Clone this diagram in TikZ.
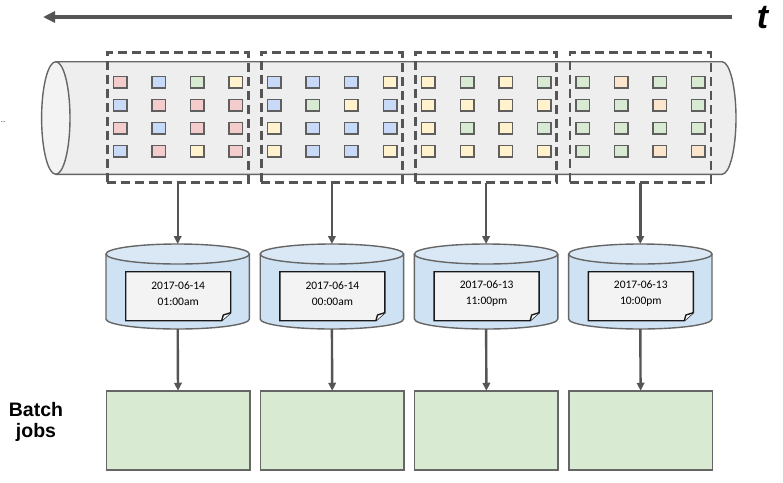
\documentclass[tikz,border=0pt]{standalone}
\usepackage{fontspec}
\setmainfont{Liberation Sans}
\newfontfamily\carlito{Carlito}
\usetikzlibrary{arrows.meta}
\definecolor{pk}{HTML}{F4CCCC}
\definecolor{bl}{HTML}{C9DAF8}
\definecolor{gr}{HTML}{D9EAD3}
\definecolor{ye}{HTML}{FFF2CC}
\definecolor{or}{HTML}{FCE5CD}
\definecolor{sqline}{HTML}{5F5F5F}
\definecolor{dline}{HTML}{555555}
\definecolor{aline}{HTML}{555555}
\definecolor{tubeline}{HTML}{666666}
\definecolor{tubefill}{HTML}{EEEEEE}
\definecolor{capfill}{HTML}{F3F3F3}
\definecolor{dbfill}{HTML}{CFE2F3}
\definecolor{dbtop}{HTML}{DAE8F5}
\definecolor{docfill}{HTML}{F3F3F3}
\definecolor{batchfill}{HTML}{D9EAD3}
\begin{document}
\begin{tikzpicture}[x=1pt,y=-1pt,
  sq/.style={draw=sqline,line width=1.5pt,minimum width=13.5pt,minimum height=11.5pt,inner sep=0pt,outer sep=0pt},
  dbox/.style={draw=dline,dash pattern=on 9pt off 5pt,line width=2.6pt,minimum width=141pt,minimum height=130pt,inner sep=0pt,outer sep=0pt},
  dbarea/.style={inner sep=0pt,outer sep=0pt,minimum width=143.4pt,minimum height=85pt},
  dbshape/.style={draw=tubeline,line width=1.4pt},
  doctext/.style={inner sep=0pt,align=center,font=\carlito\fontsize{11.5}{15.7}\selectfont},
  docline/.style={draw=black!90,line width=1.4pt},
  batch/.style={draw=tubeline,fill=batchfill,line width=1.5pt,minimum width=143.5pt,minimum height=79.3pt,inner sep=0pt,outer sep=0pt},
  conn/.style={draw=aline,line width=2.4pt,-{Triangle[length=8pt,width=7.5pt]}}
]
\useasboundingbox (0,0) rectangle (783,482);
\fill[white] (0,0) rectangle (783,482);

% time arrow
\coordinate (tstart) at (732,17);
\coordinate (tend) at (43,17);
\draw[line width=3.8pt,draw=aline,-{Triangle[length=12pt,width=11pt]}] (tstart) -- (tend);
\node[anchor=base,inner sep=0pt,font=\fontsize{34}{34}\selectfont\bfseries\itshape] (tlabel) at (762.5,28) {t};

% dots at left
\node[inner sep=0pt,font=\fontsize{8}{8}\selectfont] (dots) at (3,122) {..};

% tube
\fill[tubefill] (55.8,61.7) -- (722,61.7) arc[start angle=90,end angle=-90,x radius=14pt,y radius=56.3pt] -- (55.8,174.3) -- cycle;
\draw[draw=tubeline,line width=1.4pt] (55.8,61.7) -- (722,61.7) arc[start angle=90,end angle=-90,x radius=14pt,y radius=56.3pt] -- (55.8,174.3);
\draw[draw=tubeline,fill=capfill,line width=1.4pt] (55.8,118) ellipse[x radius=14.2pt,y radius=56.3pt];

% squares
\foreach \i/\cols in {0/{pk,bl,gr,ye,bl,pk,pk,pk,pk,bl,pk,pk,bl,pk,ye,pk},
                      1/{bl,bl,bl,ye,bl,gr,ye,bl,ye,bl,bl,bl,ye,bl,bl,ye},
                      2/{ye,gr,ye,gr,ye,ye,ye,ye,ye,gr,ye,gr,ye,ye,ye,ye},
                      3/{gr,or,gr,gr,gr,gr,or,gr,gr,gr,gr,gr,gr,gr,or,or}}{
  \foreach \c [count=\n from 0] in \cols {
    \pgfmathtruncatemacro\j{mod(\n,4)}
    \pgfmathtruncatemacro\k{floor(\n/4)}
    \pgfmathsetmacro\sx{177.7+154.2*\i-57.7+38.6*\j}
    \pgfmathsetmacro\sy{82.3+22.9*\k}
    \node[sq,fill=\c] (s\i-\n) at (\sx,\sy) {};
  }
}

% windows, databases, batch jobs
\foreach \i/\dte/\tme in {0/2017-06-14/01:00am,1/2017-06-14/00:00am,2/2017-06-13/11:00pm,3/2017-06-13/10:00pm}{
  \pgfmathsetmacro\cx{177.7+154.2*\i}
  \pgfmathsetmacro\xl{\cx-71.7}
  \pgfmathsetmacro\xr{\cx+71.7}
  \pgfmathsetmacro\dl{\cx-52}
  \pgfmathsetmacro\dr{\cx+53}
  \node[dbox] (w\i) at (\cx,117.7) {};
  % database
  \node[dbarea] (db\i) at (\cx,286.5) {};
  \fill[dbfill] (\xl,254) -- (\xl,319) arc[start angle=180,end angle=360,x radius=71.7pt,y radius=10pt] -- (\xr,254) -- cycle;
  \draw[dbshape] (\xl,254) -- (\xl,319) arc[start angle=180,end angle=360,x radius=71.7pt,y radius=10pt] -- (\xr,254);
  \draw[dbshape,fill=dbtop] (\cx,254) ellipse[x radius=71.7pt,y radius=10pt];
  % document
  \draw[docline,fill=docfill] (\dl,271.7) -- (\dr,271.7) -- (\dr,312.7) -- ({\dr-9},320.7) -- (\dl,320.7) -- cycle;
  \draw[docline,fill=white,line join=round] ({\dr-9},320.7) -- ({\dr-7.4},315) -- (\dr,312.7);
  \node[doctext] (doc\i) at ({\cx+0.5},293.8) {\dte\\\tme};
  % batch job
  \node[batch] (b\i) at ({\cx+0.3},430.4) {};
  \draw[conn] (w\i.south) -- (db\i.north);
  \draw[conn] (db\i.south) -- (b\i.north);
}

\node[inner sep=0pt,align=center,font=\fontsize{19.5}{21.7}\selectfont\bfseries] (batchlabel) at (36,422) {Batch\\jobs};
\end{tikzpicture}
\end{document}
